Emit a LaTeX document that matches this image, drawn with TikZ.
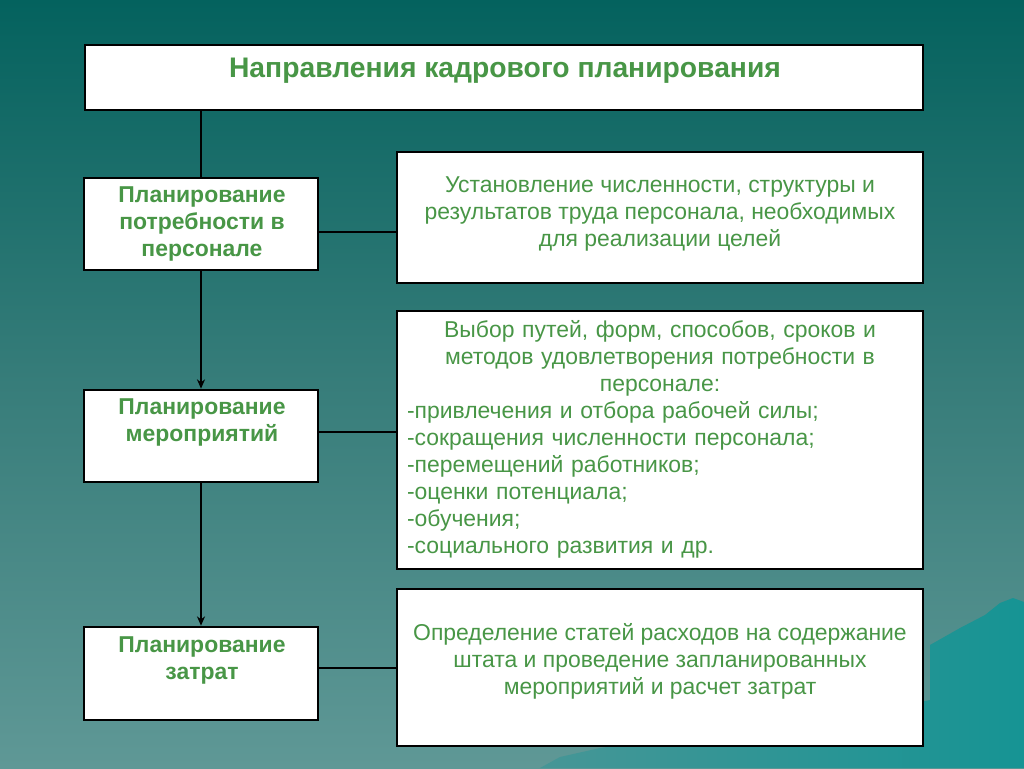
\documentclass[tikz,border=0pt]{standalone}
\usepackage{fontspec}
\setmainfont{Liberation Sans}
\usetikzlibrary{arrows.meta}
\definecolor{bgtop}{RGB}{4,98,94}
\definecolor{bgmid}{RGB}{55,125,122}
\definecolor{bgbot}{RGB}{95,152,150}
\definecolor{mtn}{RGB}{22,148,148}
\definecolor{mtnl}{RGB}{70,150,150}
\definecolor{txtgreen}{RGB}{72,150,70}
\tikzset{
  box/.style={draw=black, line width=2.6pt*0.75, fill=white, inner sep=0pt},
  conn/.style={draw=black, line width=2.2pt*0.75},
  arr/.style={conn, -{Stealth[length=7pt,width=6pt]}},
  lbl/.style={text=txtgreen, font=\fontsize{17.2pt}{20.25pt}\selectfont\bfseries, align=center, inner sep=0pt},
  body/.style={text=txtgreen, font=\fontsize{17.2pt}{20.25pt}\selectfont, align=center, inner sep=0pt},
  ttl/.style={text=txtgreen, font=\fontsize{21.2pt}{24pt}\selectfont\bfseries, inner sep=0pt}
}
\begin{document}
\begin{tikzpicture}[x=0.75pt, y=-0.75pt]
\useasboundingbox (0,0) rectangle (1024,768);
\shade[top color=bgtop, bottom color=bgbot, middle color=bgmid] (0,0) rectangle (1024,768);
\shade[left color=mtnl, right color=mtn] (540,768) -- (560,757) -- (600,748) -- (640,742) -- (700,742) -- (930,700) -- (930,645) -- (960,628) -- (985,615) -- (1000,603) -- (1013,598) -- (1024,602) -- (1024,768) -- cycle;
% boxes
\node[box, minimum width=838*0.75pt, minimum height=65*0.75pt] (title) at (504,77.5) {};
\node[box, minimum width=234*0.75pt, minimum height=92*0.75pt] (b1) at (201,224) {};
\node[box, minimum width=234*0.75pt, minimum height=92*0.75pt] (b2) at (201,436) {};
\node[box, minimum width=234*0.75pt, minimum height=93*0.75pt] (b3) at (201,673.5) {};
\node[box, minimum width=526*0.75pt, minimum height=131*0.75pt] (r1) at (660,217.5) {};
\node[box, minimum width=526*0.75pt, minimum height=258*0.75pt] (r2) at (660,440) {};
\node[box, minimum width=526*0.75pt, minimum height=157*0.75pt] (r3) at (660,667.5) {};
% connectors
\draw[conn] (title.south -| b1.north) -- (b1.north);
\draw[arr] (b1.south) -- (b2.north);
\draw[arr] (b2.south) -- (b3.north);
\draw[conn] (b1.east |- 0,232) coordinate (c1) -- (c1 -| r1.west);
\draw[conn] (b2.east |- 0,432) coordinate (c2) -- (c2 -| r2.west);
\draw[conn] (b3.east |- 0,668) coordinate (c3) -- (c3 -| r3.west);
% texts
\node[ttl] (tt) at (505,71) {Направления кадрового планирования};
\node[lbl] (t1) at (202,224) {Планирование\\потребности в\\персонале};
\node[lbl] (t2) at (202,422) {Планирование\\мероприятий};
\node[lbl] (t3) at (202,660) {Планирование\\затрат};
\node[body] (s1) at (660,214) {Установление численности, структуры и\\результатов труда персонала, необходимых\\для реализации целей};
\node[body, text width=506*0.75pt, align=left] (s2) at (660,439) {{\centering Выбор путей, форм, способов, сроков и\\методов удовлетворения потребности в\\персонале:\par}\raggedright -привлечения  и отбора рабочей силы;\\-сокращения численности персонала;\\-перемещений работников;\\-оценки потенциала;\\-обучения;\\-социального развития и др.};
\node[body] (s3) at (660,661) {Определение статей расходов на  содержание\\штата и проведение запланированных\\мероприятий и расчет затрат};
\end{tikzpicture}
\end{document}
